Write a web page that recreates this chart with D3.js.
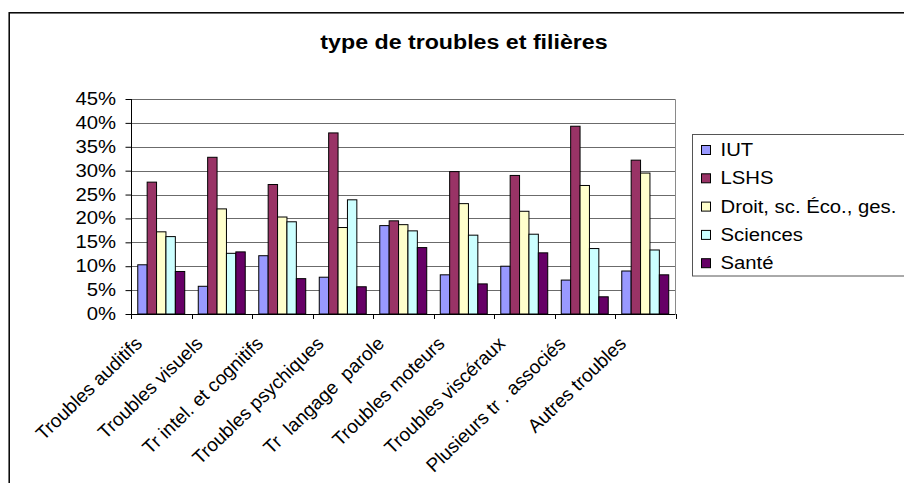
<!DOCTYPE html>
<html>
<head>
<meta charset="utf-8">
<script src="https://d3js.org/d3.v7.min.js"></script>
<style>
  body { margin: 0; background: #fff; }
  text { font-family: Arial, "Liberation Sans", sans-serif; fill: #000; }
</style>
</head>
<body>
<div id="chart"></div>
<script>
// Chart data (percent values)
var categories = ["Troubles auditifs", "Troubles visuels", "Tr intel. et cognitifs",
  "Troubles psychiques", "Tr  langage  parole", "Troubles moteurs",
  "Troubles viscéraux", "Plusieurs tr . associés", "Autres troubles"];
var seriesNames = ["IUT", "LSHS", "Droit, sc. Éco., ges.", "Sciences", "Santé"];
var iut = [10.3, 5.8, 12.2, 7.7, 18.5, 8.2, 10.0, 7.1, 9.0];
var lshs = [27.6, 32.8, 27.1, 37.9, 19.5, 29.8, 29.0, 39.3, 32.2];
var droit = [17.2, 22.0, 20.3, 18.1, 18.7, 23.1, 21.5, 26.9, 29.5];
var sciences = [16.2, 12.7, 19.3, 23.9, 17.4, 16.5, 16.7, 13.7, 13.4];
var sante = [8.9, 13.0, 7.4, 5.7, 13.9, 6.3, 12.8, 3.6, 8.2];
var yTicks = [0, 5, 10, 15, 20, 25, 30, 35, 40, 45];

var seriesValues = [iut, lshs, droit, sciences, sante];
var colors = ["#9999ff", "#993366", "#ffffcc", "#ccffff", "#660066"];

var svgWidth = 904;
var svgHeight = 483;
var stretch = 1.16;   // text looks stretched horizontally

var plot = { left: 131, right: 675.5, top: 99, bottom: 314 };

var svg = d3.select("#chart")
  .append("svg")
  .attr("width", svgWidth)
  .attr("height", svgHeight);

// Outer chart border
svg.append("rect")
  .attr("x", 9.2)
  .attr("y", 12.8)
  .attr("width", 1000)
  .attr("height", 1000)
  .attr("fill", "none")
  .attr("stroke", "#000")
  .attr("stroke-width", 1.5);

// Title
svg.append("text")
  .attr("transform", `translate(464, 49) scale(${stretch}, 1)`)
  .attr("text-anchor", "middle")
  .attr("font-size", "20px")
  .attr("font-weight", "bold")
  .text("type de troubles et filières");

// Scales
var x0 = d3.scaleBand()
  .domain(categories)
  .range([plot.left, plot.right])
  .padding(0);

var x1 = d3.scaleBand()
  .domain(seriesNames)
  .range([0, x0.bandwidth()])
  .paddingInner(0)
  .paddingOuter(0.72);

var y = d3.scaleLinear()
  .domain([0, 45])
  .range([plot.bottom, plot.top]);

// Gridlines
svg.append("g")
  .selectAll("line")
  .data(yTicks.filter(function(d) { return d > 0; }))
  .enter()
  .append("line")
  .attr("x1", plot.left)
  .attr("x2", plot.right)
  .attr("y1", function(d) { return Math.round(y(d)) + 0.5; })
  .attr("y2", function(d) { return Math.round(y(d)) + 0.5; })
  .attr("stroke", "#6b6b6b")
  .attr("stroke-width", 1);

// Plot area right border
svg.append("line")
  .attr("x1", plot.right)
  .attr("x2", plot.right)
  .attr("y1", Math.round(y(45)) + 0.5)
  .attr("y2", plot.bottom)
  .attr("stroke", "#8a8a8a");

// Bars
var groups = svg.append("g")
  .selectAll("g")
  .data(categories)
  .enter()
  .append("g")
  .attr("transform", function(d) { return `translate(${x0(d)}, 0)`; });

groups.selectAll("rect")
  .data(function(d, i) {
    return seriesNames.map(function(s, j) {
      return { series: s, value: seriesValues[j][i], color: colors[j] };
    });
  })
  .enter()
  .append("rect")
  .attr("x", function(d) { return x1(d.series); })
  .attr("y", function(d) { return y(d.value); })
  .attr("width", x1.bandwidth())
  .attr("height", function(d) { return plot.bottom - y(d.value); })
  .attr("fill", function(d) { return d.color; })
  .attr("stroke", "#000")
  .attr("stroke-width", 1);

// Y axis
var leftAxis = d3.axisLeft(y)
  .tickValues(yTicks)
  .tickSize(6)
  .tickFormat("");

svg.append("g")
  .attr("transform", `translate(${plot.left + 0.5}, 0)`)
  .call(leftAxis)
  .call(function(g) {
    g.selectAll("path, line").attr("stroke", "#000");
    g.select(".domain").attr("d", `M0,${y(45)}V${plot.bottom}`);
  });

// Y tick labels (stretched like the original)
svg.append("g")
  .selectAll("text")
  .data(yTicks)
  .enter()
  .append("text")
  .attr("transform", function(d) { return `translate(116, ${y(d) + 6}) scale(${stretch}, 1)`; })
  .attr("text-anchor", "end")
  .attr("font-size", "17.5px")
  .text(function(d) { return d + "%"; });

// X axis with ticks at category boundaries
var boundaries = categories.map(function(c) { return x0(c); }).concat([plot.right]);

svg.append("line")
  .attr("x1", plot.left)
  .attr("x2", plot.right)
  .attr("y1", plot.bottom + 0.5)
  .attr("y2", plot.bottom + 0.5)
  .attr("stroke", "#000");

svg.append("g")
  .selectAll("line")
  .data(boundaries)
  .enter()
  .append("line")
  .attr("x1", function(d) { return Math.round(d) + 0.5; })
  .attr("x2", function(d) { return Math.round(d) + 0.5; })
  .attr("y1", plot.bottom)
  .attr("y2", plot.bottom + 5)
  .attr("stroke", "#000");

// Rotated category labels
svg.append("g")
  .selectAll("text")
  .data(categories)
  .enter()
  .append("text")
  .attr("transform", function(d) {
    var cx = x0(d) + x0.bandwidth() / 2;
    return `translate(${cx - 18}, ${plot.bottom + 31}) rotate(-44)`;
  })
  .attr("text-anchor", "end")
  .attr("font-size", "19px")
  .style("white-space", "pre")
  .text(function(d) { return d; });

// Legend
var legend = svg.append("g");

legend.append("rect")
  .attr("x", 692.5)
  .attr("y", 134.5)
  .attr("width", 400)
  .attr("height", 141.5)
  .attr("fill", "#fff")
  .attr("stroke", "#555");

var items = legend.selectAll("g.item")
  .data(seriesNames)
  .enter()
  .append("g")
  .attr("class", "item")
  .attr("transform", function(d, i) { return `translate(0, ${150 + i * 28.3})`; });

items.append("rect")
  .attr("x", 701.5)
  .attr("y", -4.5)
  .attr("width", 9)
  .attr("height", 9)
  .attr("fill", function(d, i) { return colors[i]; })
  .attr("stroke", "#000");

items.append("text")
  .attr("transform", `translate(720.5, 6) scale(${stretch}, 1)`)
  .attr("font-size", "17.5px")
  .text(function(d) { return d; });
</script>
</body>
</html>
